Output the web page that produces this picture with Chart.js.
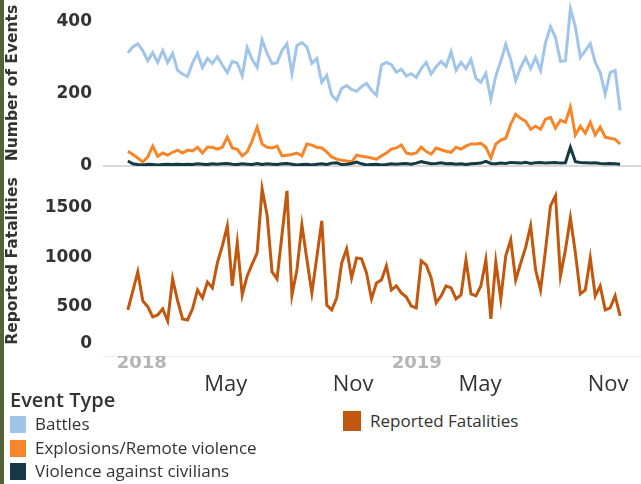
<!DOCTYPE html>
<html>
<head>
<meta charset="utf-8">
<script src="https://cdn.jsdelivr.net/npm/chart.js@4.4.1/dist/chart.umd.min.js"></script>
<style>
  body { margin: 0; width: 641px; height: 484px; background: #fff; position: relative; overflow: hidden;
         font-family: "Open Sans", sans-serif; color: #333; }
  #wrap { position: absolute; left: 0; top: 0; width: 641px; height: 400px; }
  .strip { position: absolute; left: 0; top: 0; width: 4px; height: 484px; background: #56643a; }
  .legend-title { position: absolute; left: 10px; top: 387px; font-size: 20px; font-weight: 600; line-height: 26px; }
  .item { position: absolute; font-size: 17px; line-height: 22px; display: flex; align-items: center; white-space: nowrap; }
  .sw { width: 16px; height: 17px; margin-right: 9px; }
</style>
</head>
<body>
<div id="wrap"><canvas id="chart" width="641" height="400"></canvas></div>
<div class="strip"></div>
<div class="legend-title">Event Type</div>
<div class="item" style="left:10px; top:413px;"><span class="sw" style="background:#a0c5e8"></span>Battles</div>
<div class="item" style="left:10px; top:437px;"><span class="sw" style="background:#f7862a"></span>Explosions/Remote violence</div>
<div class="item" style="left:10px; top:460px;"><span class="sw" style="background:#163a45"></span>Violence against civilians</div>
<div class="item" style="left:343px; top:410px;"><span class="sw" style="background:#c0580f; width:18px; height:20px;"></span>Reported Fatalities</div>
<script>
// weekly counts, Jan 2018 - Nov 2019
const battles = [314, 330, 339, 320, 292, 314, 287, 320, 287, 312,
  265, 255, 248, 285, 312, 273, 298, 284, 303, 280,
  259, 290, 285, 250, 328, 295, 273, 350, 312, 284,
  286, 320, 339, 256, 334, 342, 330, 284, 298, 232,
  251, 196, 182, 215, 223, 212, 207, 220, 229, 210,
  196, 280, 287, 281, 260, 268, 250, 256, 245, 270,
  287, 255, 275, 290, 276, 317, 265, 287, 270, 295,
  243, 232, 257, 185, 250, 290, 337, 295, 237, 273,
  300, 270, 301, 265, 342, 386, 356, 290, 292, 436,
  386, 301, 320, 339, 287, 259, 199, 259, 265, 154];

const explosions = [41, 32, 22, 11, 25, 55, 27, 36, 30, 38,
  44, 36, 44, 42, 52, 36, 52, 52, 47, 52,
  80, 50, 46, 28, 39, 70, 108, 61, 52, 50,
  55, 28, 30, 32, 36, 28, 61, 58, 52, 50,
  39, 25, 19, 16, 14, 11, 30, 27, 25, 22,
  19, 28, 36, 47, 50, 58, 36, 33, 36, 52,
  40, 33, 50, 45, 41, 38, 52, 47, 55, 61,
  61, 63, 52, 22, 61, 72, 77, 116, 143, 132,
  124, 102, 110, 102, 130, 135, 105, 127, 121, 163,
  86, 110, 91, 121, 86, 108, 80, 77, 74, 61];

const violence = [14, 6, 4, 3, 5, 4, 3, 4, 5, 4,
  5, 4, 5, 4, 6, 5, 4, 6, 5, 6,
  7, 5, 4, 6, 5, 4, 7, 4, 6, 5,
  4, 6, 7, 5, 3, 4, 5, 3, 5, 6,
  4, 8, 9, 4, 5, 7, 11, 6, 3, 4,
  5, 3, 4, 6, 5, 6, 7, 5, 8, 12,
  9, 6, 7, 9, 6, 7, 5, 6, 4, 6,
  7, 8, 13, 7, 6, 8, 7, 10, 9, 8,
  10, 7, 9, 10, 8, 9, 10, 8, 9, 52,
  12, 10, 9, 8, 9, 7, 6, 7, 6, 5];

const fatalities = [467, 660, 852, 558, 500, 396, 416, 477, 355, 781,
  560, 375, 365, 477, 669, 588, 750, 690, 943, 1116,
  1318, 710, 1146, 619, 811, 930, 1045, 1694, 1430, 852,
  781, 1230, 1673, 619, 872, 1329, 980, 639, 1000, 1369,
  517, 467, 588, 943, 1085, 791, 994, 984, 842, 578,
  740, 771, 913, 669, 710, 639, 598, 507, 487, 963,
  923, 791, 538, 609, 710, 690, 578, 619, 974, 629,
  609, 710, 974, 375, 953, 578, 1014, 1176, 771, 940,
  1100, 1318, 872, 669, 1075, 1521, 1623, 811, 1075, 1400,
  1045, 629, 669, 994, 609, 710, 467, 487, 609, 406];

const eventTicks = [0, 200, 400];
const fatalTicks = [0, 500, 1000, 1500];

// axis labels and the week (from the first point) they sit at
const yearLabels = ["2018", "2019"];
const yearWeek = [2.8, 58.1];
const monthLabels = ["May", "Nov", "May", "Nov"];
const monthWeek = [19.7, 45.3, 70.8, 96.6];

const TEXT = "#333333";

function toPoints(values) {
  return values.map((v, i) => ({ x: i, y: v }));
}

function line(label, values, color, axis, order) {
  return {
    label: label,
    data: toPoints(values),
    borderColor: color,
    backgroundColor: color,
    borderWidth: 3,
    pointRadius: 0,
    tension: 0,
    yAxisID: axis,
    order: order,
  };
}

function tickValue(c) {
  return c && c.tick ? c.tick.value : null;
}

function isYear(c) {
  return yearWeek.indexOf(tickValue(c)) !== -1;
}

// drop the edge padding chart.js reserves for labels, so the panels fill the canvas
function noEdgePadding(scale) {
  scale.paddingTop = 0;
  scale.paddingBottom = 0;
  scale.paddingLeft = 0;
  scale.paddingRight = 0;
}

const tickFont = { family: "DejaVu Sans", size: 17, weight: "bold" };
const yearFont = { family: "DejaVu Sans", size: 18, weight: "bold", lineHeight: 1.3 };
const monthFont = { family: "Open Sans", size: 22, lineHeight: 1 };
const titleFont = { family: "DejaVu Sans", size: 15.5, weight: "bold" };

const ctx = document.getElementById("chart").getContext("2d");
new Chart(ctx, {
  type: "line",
  data: {
    datasets: [
      line("Battles", battles, "#a0c5e8", "yEvents", 3),
      line("Explosions/Remote violence", explosions, "#f7862a", "yEvents", 2),
      line("Violence against civilians", violence, "#163a45", "yEvents", 1),
      line("Reported Fatalities", fatalities, "#c0580f", "yFatal", 1),
    ],
  },
  options: {
    responsive: false,
    animation: false,
    layout: { padding: 0 },
    plugins: { legend: { display: false }, tooltip: { enabled: false } },
    scales: {
      x: {
        type: "linear",
        min: -5,
        max: 103.2,
        grid: { display: false, drawTicks: false },
        border: { display: true, color: "#eeeeee" },
        afterBuildTicks: (scale) => {
          scale.ticks = yearWeek.concat(monthWeek)
            .sort((a, b) => a - b)
            .map((v) => ({ value: v }));
        },
        afterFit: (scale) => {
          scale.height = 44;
          noEdgePadding(scale);
        },
        ticks: {
          autoSkip: false,
          maxRotation: 0,
          padding: -4,
          callback: (value) => {
            const y = yearWeek.indexOf(value);
            if (y !== -1) return yearLabels[y];
            const m = monthWeek.indexOf(value);
            return ["", monthLabels[m]];
          },
          font: (c) => (isYear(c) ? yearFont : monthFont),
          color: (c) => (isYear(c) ? "#b5b5b5" : TEXT),
        },
      },
      yFatal: {
        type: "linear",
        position: "left",
        stack: "panels",
        stackWeight: 190,
        min: 0,
        max: 1925,
        afterBuildTicks: (scale) => {
          scale.ticks = fatalTicks.map((v) => ({ value: v }));
        },
        afterFit: (scale) => {
          scale.width = 103;
          noEdgePadding(scale);
        },
        grid: { display: false, drawTicks: false },
        border: { display: false },
        title: {
          display: true,
          text: "Reported Fatalities",
          color: TEXT,
          font: titleFont,
          padding: { top: 4, bottom: 0 },
        },
        ticks: {
          autoSkip: false,
          padding: 11,
          color: TEXT,
          callback: (value) => (value === 0 ? ["0", ""] : String(value)),
          font: (c) => (tickValue(c) === 0 ? { ...tickFont, lineHeight: 1.5 } : tickFont),
        },
      },
      yEvents: {
        type: "linear",
        position: "left",
        stack: "panels",
        stackWeight: 166,
        min: 0,
        max: 460,
        afterBuildTicks: (scale) => {
          scale.ticks = eventTicks.map((v) => ({ value: v }));
        },
        afterFit: (scale) => {
          scale.width = 103;
          noEdgePadding(scale);
        },
        grid: {
          drawTicks: false,
          lineWidth: 2,
          color: (c) => (tickValue(c) === 0 ? "#d9d9d9" : "rgba(0,0,0,0)"),
        },
        border: { display: false },
        title: {
          display: true,
          text: "Number of Events",
          color: TEXT,
          font: titleFont,
          padding: { top: 4, bottom: 0 },
        },
        ticks: {
          autoSkip: false,
          padding: 11,
          color: TEXT,
          font: tickFont,
        },
      },
    },
  },
});
</script>
</body>
</html>
